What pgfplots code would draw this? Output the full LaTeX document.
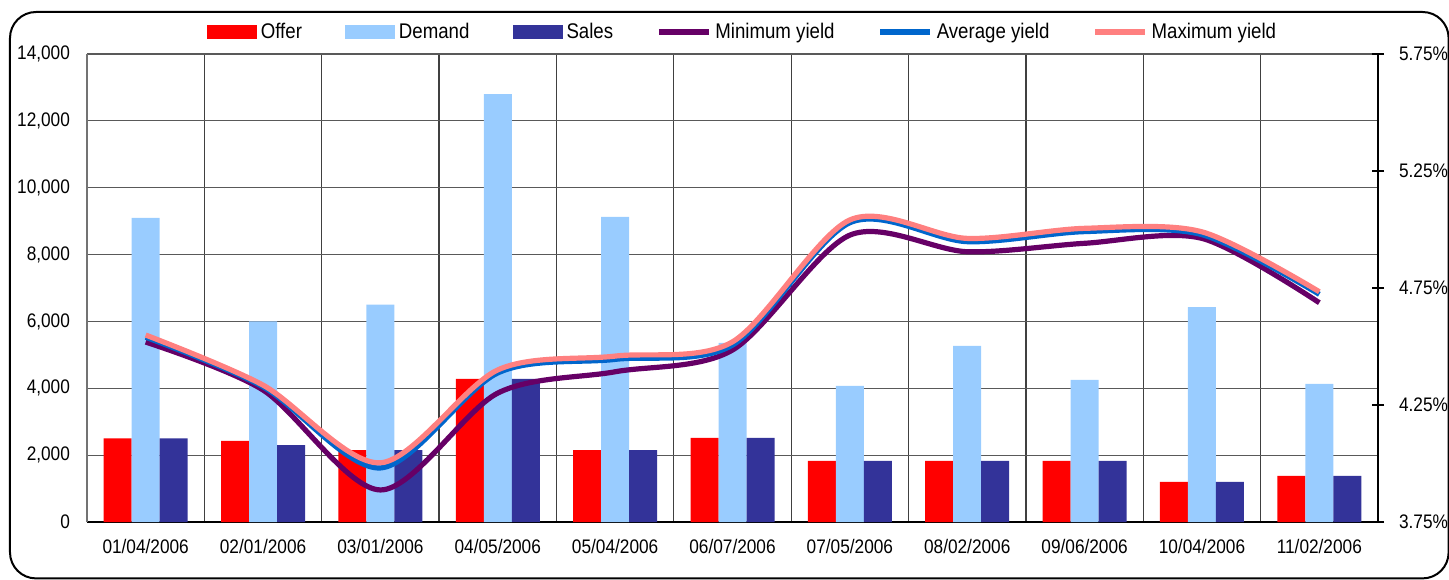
\documentclass[border=0pt]{standalone}
\usepackage{pgfplots}
\pgfplotsset{compat=1.18}
\usepackage{fontspec}
\setmainfont{Liberation Sans}[FakeStretch=0.88]
\definecolor{cOffer}{HTML}{FF0000}
\definecolor{cDemand}{HTML}{99CCFF}
\definecolor{cSales}{HTML}{333399}
\definecolor{cMin}{HTML}{660066}
\definecolor{cAvg}{HTML}{0066CC}
\definecolor{cMax}{HTML}{FF8080}
\pgfplotsset{
  barleg/.style={legend image code/.code={\fill[##1] (0pt,-3.5pt) rectangle (25pt,3.5pt);}},
  lineleg/.style={legend image code/.code={\draw[##1] (0pt,0pt) -- (25pt,0pt);}},
}
\begin{document}
\begin{tikzpicture}
\begin{axis}[
  name=ax,
  scale only axis, width=645.5pt, height=234pt,
  xmin=-0.5, xmax=10.5, ymin=0, ymax=14000,
  ybar=0pt, bar width=14pt,
  axis x line*=bottom, axis y line*=left,
  x axis line style={draw=black, line width=0.8pt},
  y axis line style={draw=black!55, line width=0.8pt},
  xtick={0,...,10},
  xticklabels={01/04/2006,02/01/2006,03/01/2006,04/05/2006,05/04/2006,06/07/2006,07/05/2006,08/02/2006,09/06/2006,10/04/2006,11/02/2006},
  minor xtick={-0.5,0.5,...,10.5},
  xminorgrids=true, ymajorgrids=true,
  minor x grid style={draw=black!75, line width=0.6pt},
  major y grid style={draw=black!65, line width=0.6pt},
  major tick length=0pt, minor tick length=0pt,
  ytick={0,2000,...,14000},
  yticklabel style={font=\fontsize{9.8}{10}\selectfont, xshift=-5pt},
  xticklabel style={font=\fontsize{9.8}{10}\selectfont, yshift=-5pt},
  /pgf/number format/assume math mode=true,
  /pgf/number format/1000 sep={,},
  scaled y ticks=false,
]
\addplot[fill=cOffer, draw=none] coordinates {(0,2500) (1,2430) (2,2150) (3,4280) (4,2150) (5,2520) (6,1830) (7,1830) (8,1830) (9,1200) (10,1380)};
\addplot[fill=cDemand, draw=none] coordinates {(0,9100) (1,6000) (2,6500) (3,12800) (4,9130) (5,5360) (6,4070) (7,5270) (8,4250) (9,6430) (10,4130)};
\addplot[fill=cSales, draw=none] coordinates {(0,2500) (1,2300) (2,2150) (3,4280) (4,2150) (5,2520) (6,1830) (7,1830) (8,1830) (9,1200) (10,1380)};
\end{axis}
\begin{axis}[
  scale only axis, width=645.5pt, height=234pt,
  xmin=-0.5, xmax=10.5, ymin=3.75, ymax=5.75,
  axis x line=none, axis y line*=right,
  y axis line style={draw=black, line width=0.8pt},
  ytick={3.75,4.25,4.75,5.25,5.75},
  major tick length=6pt,
  tick align=center,
  ytick style={draw=black, line width=0.6pt},
  yticklabel={\pgfmathprintnumber[fixed,fixed zerofill,precision=2]{\tick}\%},
  yticklabel style={font=\fontsize{9.8}{10}\selectfont, xshift=4pt},
  /pgf/number format/assume math mode=true,
  legend columns=6,
  legend style={at={(0.5085,1)}, anchor=center, yshift=11pt, draw=none, fill=none,
    font=\fontsize{10.6}{11}\selectfont,
    /tikz/every even column/.append style={column sep=19.5pt},
    inner sep=0pt},
  legend cell align=left,
]
\addlegendimage{barleg, fill=cOffer, draw=none}
\addlegendentry{Offer}
\addlegendimage{barleg, fill=cDemand, draw=none}
\addlegendentry{Demand}
\addlegendimage{barleg, fill=cSales, draw=none}
\addlegendentry{Sales}
\addplot[cMin, line width=2.6pt, smooth, tension=0.5, lineleg] coordinates {(0,4.519) (1,4.314) (2,3.887) (3,4.301) (4,4.392) (5,4.485) (6,4.976) (7,4.905) (8,4.941) (9,4.962) (10,4.687)};
\addlegendentry{Minimum yield}
\addplot[cAvg, line width=2.6pt, smooth, tension=0.5, lineleg] coordinates {(0,4.540) (1,4.328) (2,3.981) (3,4.387) (4,4.445) (5,4.506) (6,5.029) (7,4.948) (8,4.991) (9,4.978) (10,4.723)};
\addlegendentry{Average yield}
\addplot[cMax, line width=2.6pt, smooth, tension=0.5, lineleg] coordinates {(0,4.549) (1,4.335) (2,4.003) (3,4.400) (4,4.459) (5,4.520) (6,5.041) (7,4.962) (8,5.005) (9,4.990) (10,4.734)};
\addlegendentry{Maximum yield}
\end{axis}
\pgfresetboundingbox
\begin{scope}[shift={(ax.south west)}]
\path[use as bounding box] (-43.5pt,-28.5pt) rectangle (681pt,261pt);
\draw[line width=1pt, rounded corners=13pt] (-38.5pt,-28.2pt) rectangle (680.8pt,255pt);
\end{scope}
\end{tikzpicture}
\end{document}
